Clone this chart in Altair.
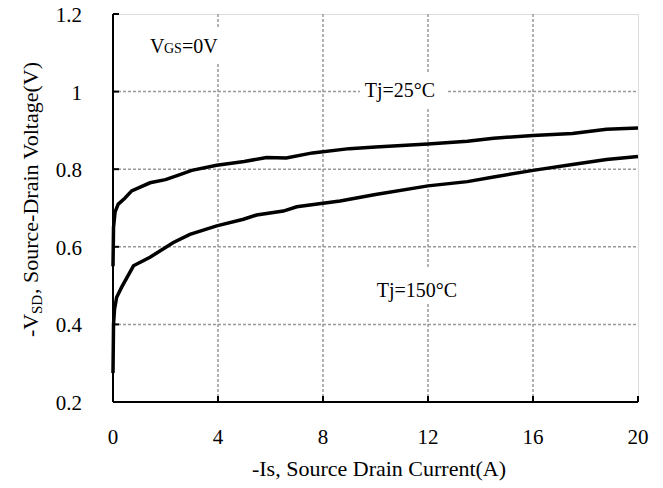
import altair as alt
import pandas as pd

# ---- data ----
i25 = [0, 0.02, 0.08, 0.2, 0.45, 0.71, 1.41, 2.0, 2.55, 3.0, 3.95, 5.0, 5.85, 6.6,
       7.6, 9.0, 10.0, 12.0, 13.5, 14.5, 16.0, 17.5, 18.8, 20.0]
v25 = [0.55, 0.65, 0.69, 0.71, 0.725, 0.744, 0.765, 0.773, 0.786, 0.797, 0.81, 0.82,
       0.83, 0.829, 0.842, 0.853, 0.857, 0.865, 0.872, 0.88, 0.887, 0.892, 0.903, 0.906]
i150 = [0, 0.02, 0.06, 0.14, 0.33, 0.78, 1.41, 2.3, 2.93, 3.95, 4.97, 5.47, 6.49, 7.0,
        8.0, 8.65, 10.0, 12.0, 13.5, 14.5, 16.0, 17.5, 18.8, 20.0]
v150 = [0.275, 0.40, 0.44, 0.47, 0.496, 0.551, 0.573, 0.611, 0.632, 0.654, 0.671, 0.682,
        0.692, 0.703, 0.712, 0.718, 0.735, 0.757, 0.768, 0.78, 0.797, 0.812, 0.825, 0.833]
x_ticks = [0, 4, 8, 12, 16, 20]
y_ticks = [0.2, 0.4, 0.6, 0.8, 1.0, 1.2]
x_grid = [4, 8, 12, 16]
y_grid = [0.4, 0.6, 0.8, 1.0]
x_min, x_max = 0, 20
y_min, y_max = 0.2, 1.2

FONT = "Liberation Serif"
W, H = 525, 388
GRID = "#8a8a8a"
TICK_X = 6 * (x_max - x_min) / W   # 6 px inward tick, in data units
TICK_Y = 6 * (y_max - y_min) / H

df = pd.DataFrame({
    "I": i25 + i150,
    "V": v25 + v150,
    "T": ["25"] * len(i25) + ["150"] * len(i150),
    "k": list(range(len(i25))) + list(range(len(i150))),
})
one = pd.DataFrame({"a": [0]})
tx = pd.DataFrame({"tx": x_ticks})
ty = pd.DataFrame({"ty": y_ticks})
gxd = pd.DataFrame({"gx": x_grid, "y0": [y_min] * 4, "y1": [y_max] * 4})
gyd = pd.DataFrame({"gy": y_grid, "x0": [x_min] * 4, "x1": [x_max] * 4})
txd = pd.DataFrame({"tx": x_ticks, "y0": [y_min] * 6, "y1": [y_min + TICK_Y] * 6})
tyd = pd.DataFrame({"ty": y_ticks, "x0": [x_min] * 6, "x1": [x_min + TICK_X] * 6})

xs = alt.Scale(domain=[x_min, x_max], nice=False, zero=False)
ys = alt.Scale(domain=[y_min, y_max], nice=False, zero=False)

# grid lines (drawn first so that the text boxes cover them)
gx = alt.Chart(gxd).mark_rule(color="#999999", strokeWidth=1.5, strokeDash=[3, 2]).encode(
    x=alt.X("gx:Q", scale=xs, axis=None),
    y=alt.Y("y0:Q", scale=ys, axis=None), y2="y1:Q")
gy = alt.Chart(gyd).mark_rule(color="#999999", strokeWidth=1.5, strokeDash=[3, 2]).encode(
    y=alt.Y("gy:Q", scale=ys), x=alt.X("x0:Q", scale=xs), x2="x1:Q")

def box(x1, x2, y1, y2):
    return alt.Chart(one).mark_rect(fill="white").encode(
        x=alt.value(x1), x2=alt.value(x2), y=alt.value(y1), y2=alt.value(y2))

boxes = [box(27, 112, 13, 49), box(247, 333, 58, 94), box(259, 349, 254, 288)]

lines = alt.Chart(df).mark_line(color="black", strokeWidth=3.5).encode(
    x=alt.X("I:Q", scale=xs),
    y=alt.Y("V:Q", scale=ys),
    detail="T:N",
    order="k:Q",
)

# axis lines, inward ticks and tick labels
dom_x = alt.Chart(one).mark_rule(color="black", strokeWidth=2).encode(
    x=alt.datum(x_min, scale=xs), x2=alt.datum(x_max), y=alt.datum(y_min, scale=ys))
dom_y = alt.Chart(one).mark_rule(color="black", strokeWidth=2).encode(
    y=alt.datum(y_min, scale=ys), y2=alt.datum(y_max), x=alt.datum(x_min, scale=xs))
xt = alt.Chart(txd).mark_rule(color="black", strokeWidth=2).encode(
    x=alt.X("tx:Q", scale=xs), y=alt.Y("y0:Q", scale=ys), y2="y1:Q")
yt = alt.Chart(tyd).mark_rule(color="black", strokeWidth=2).encode(
    y=alt.Y("ty:Q", scale=ys), x=alt.X("x0:Q", scale=xs), x2="x1:Q")
xl = alt.Chart(tx).mark_text(font=FONT, fontSize=21, color="black", baseline="middle",
                             dy=36).encode(
    x=alt.X("tx:Q", scale=xs), y=alt.datum(y_min, scale=ys), text="tx:Q")
yl = alt.Chart(ty).mark_text(font=FONT, fontSize=21, color="black", align="right",
                             baseline="middle", dx=-31, dy=2).encode(
    y=alt.Y("ty:Q", scale=ys), x=alt.datum(x_min, scale=xs),
    text=alt.Text("ty:Q", format="~g"))

def txt(s, x, y, size=20, align="left", baseline="alphabetic", angle=0):
    return alt.Chart(one).mark_text(text=s, font=FONT, fontSize=size, color="black",
                                    align=align, baseline=baseline, angle=angle).encode(
        x=alt.value(x), y=alt.value(y))

labels = [
    txt("V", 37, 39, 20),
    txt("GS", 51, 39, 14),
    txt("=0V", 69, 39, 20),
    txt("Tj=25°C", 287, 77, 20, align="center", baseline="middle"),
    txt("Tj=150°C", 304, 277, 20, align="center", baseline="middle"),
    txt("-Is, Source Drain Current(A)", 266, 462, 22, align="center"),
    txt("-V", -75, 323, 22, angle=270),
    txt("SD", -71, 300, 15, angle=270),
    txt(", Source-Drain Voltage(V)", -75, 280, 22, angle=270),
]

chart = alt.layer(gx, gy, *boxes, lines, dom_x, dom_y, xt, yt, xl, yl, *labels).properties(
    width=W, height=H,
    autosize=alt.AutoSizeParams(type="none"),
    padding={"left": 105, "top": 6, "right": 17, "bottom": 86},
).configure_view(stroke=GRID, strokeWidth=2).configure(background="white")

chart.save("out.html", embed_options={"renderer": "svg", "actions": False})
